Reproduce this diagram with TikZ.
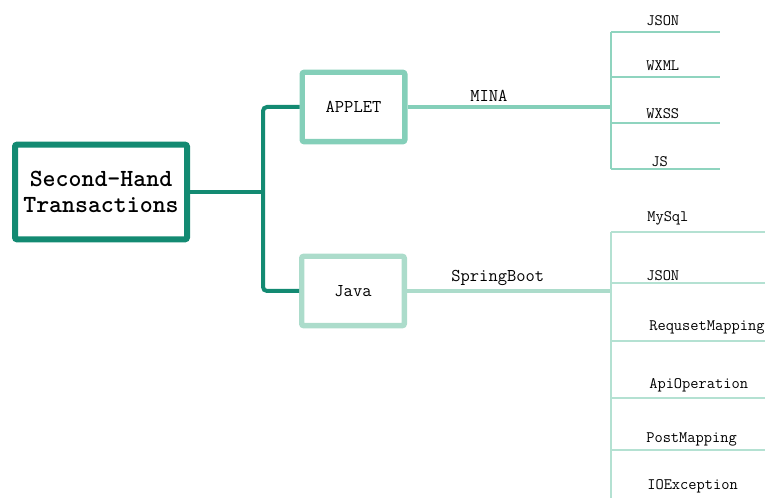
\documentclass[tikz,border=0pt]{standalone}
\usepackage{xcolor}
\usetikzlibrary{positioning}
\definecolor{rootc}{HTML}{138A72}
\definecolor{appc}{HTML}{84CFB9}
\definecolor{javac}{HTML}{ACDCCB}
\definecolor{appleaf}{HTML}{8FD4BF}
\definecolor{javaleaf}{HTML}{B4E1D2}

\begin{document}
\begin{tikzpicture}[x=0.75pt, y=-0.75pt, every node/.style={font=\ttfamily}, root/.style={draw=rootc, line width=4.5pt, rounded corners=1.5pt, align=center, minimum width=129pt, minimum height=71pt, inner sep=0pt, font=\ttfamily\bfseries\fontsize{18.5}{20}\selectfont}, sub/.style={draw=#1, line width=4pt, rounded corners=1.5pt, minimum width=77pt, minimum height=52pt, font=\ttfamily\fontsize{13.5}{15}\selectfont}, trunk/.style={draw=rootc, line width=3pt, rounded corners=3pt}, branch/.style={draw=#1, line width=2.6pt}, leafline/.style={draw=#1, line width=1.5pt}, lbl/.style={above, inner sep=2.5pt, font=\ttfamily\fontsize{13.5}{15}\selectfont}, leaf/.style={anchor=base west, inner sep=0pt, font=\ttfamily\fontsize{12}{14}\selectfont}]
\clip (0,0) rectangle (765,498);
\node[root] (root) at (101,192) {Second-Hand\\Transactions};
\node[sub=appc] (applet) at (353.5,107) {APPLET};
\node[sub=javac] (java) at (353,291) {Java};
\coordinate (rootfork) at (263,192);
\coordinate (minafork) at (611,107);
\coordinate (springfork) at (611,291);
% leaves of APPLET
\coordinate (jsonAL) at (611,32); \coordinate (jsonAR) at (720,32);
\coordinate (wxmlL) at (611,77); \coordinate (wxmlR) at (720,77);
\coordinate (wxssL) at (611,123); \coordinate (wxssR) at (720,123);
\coordinate (jsL) at (611,169); \coordinate (jsR) at (720,169);
\node[leaf] (jsonA) at (646,26) {JSON};
\node[leaf] (wxml) at (646,71) {WXML};
\node[leaf] (wxss) at (646,119) {WXSS};
\node[leaf] (js) at (651,167) {JS};
% leaves of Java
\coordinate (mysqlL) at (611,232); \coordinate (mysqlR) at (770,232);
\coordinate (jsonBL) at (611,283.5); \coordinate (jsonBR) at (770,283.5);
\coordinate (reqL) at (611,341); \coordinate (reqR) at (770,341);
\coordinate (apiL) at (611,398); \coordinate (apiR) at (770,398);
\coordinate (postL) at (611,450); \coordinate (postR) at (770,450);
\coordinate (javabot) at (611,505);
\node[leaf] (mysql) at (647,222) {MySql};
\node[leaf] (jsonB) at (646,281) {JSON};
\node[leaf] (req) at (649,331) {RequsetMapping};
\node[leaf] (api) at (649,389) {ApiOperation};
\node[leaf] (post) at (646,443) {PostMapping};
\node[leaf] (ioex) at (647,490) {IOException};
\draw[trunk] (root.east) -- (rootfork); \draw[trunk] (applet.west) -| (rootfork) |- (java.west);
\draw[branch=appc] (applet.east) -- node[lbl, pos=0.4] {MINA} (minafork);
\draw[branch=javac] (java.east) -- node[lbl, pos=0.445] {SpringBoot} (springfork);
\draw[leafline=appleaf, line width=2pt] (jsonAL) -- (jsL);
\draw[leafline=appleaf] (jsonAL) -- (jsonAR); \draw[leafline=appleaf] (wxmlL) -- (wxmlR); \draw[leafline=appleaf] (wxssL) -- (wxssR); \draw[leafline=appleaf] (jsL) -- (jsR);
\draw[leafline=javaleaf, line width=2pt] (mysqlL) -- (javabot);
\draw[leafline=javaleaf] (mysqlL) -- (mysqlR); \draw[leafline=javaleaf] (jsonBL) -- (jsonBR); \draw[leafline=javaleaf] (reqL) -- (reqR); \draw[leafline=javaleaf] (apiL) -- (apiR); \draw[leafline=javaleaf] (postL) -- (postR);
\end{tikzpicture}
\end{document}
